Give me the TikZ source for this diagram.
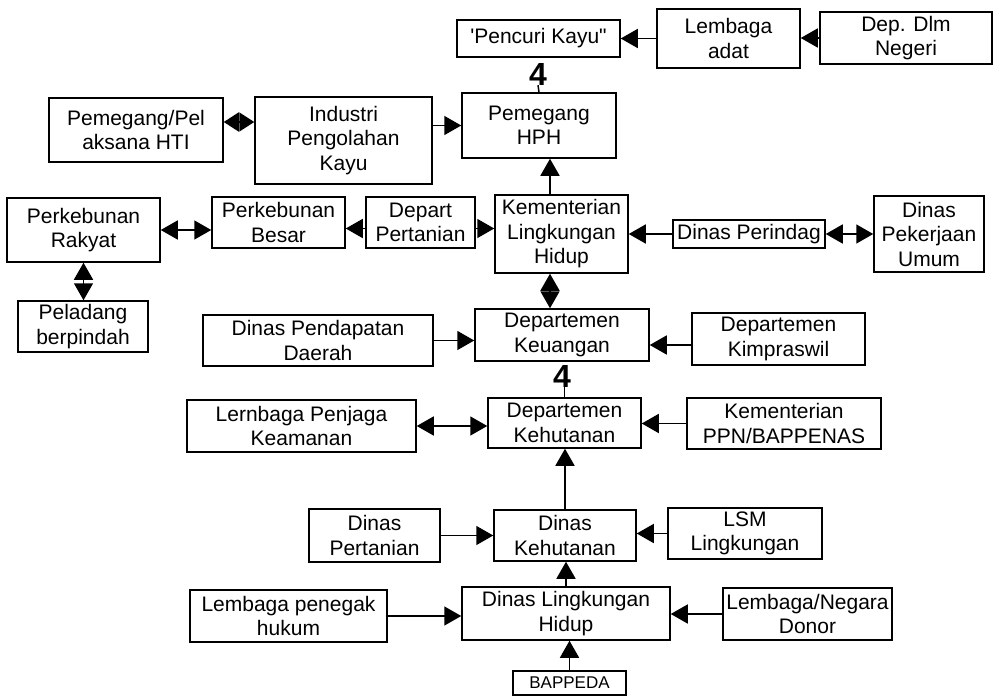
\documentclass[tikz,border=0pt]{standalone}
\usepackage{fontspec}
\setmainfont{Liberation Sans}
\usetikzlibrary{arrows.meta}

\begin{document}
\begin{tikzpicture}[x=1pt,y=-1pt,
    block/.style ={draw, line width=1.5pt, align=center, inner sep=1pt,
      font=\fontsize{21}{24.5}\selectfont},
    link/.style ={line width=1.5pt, -{Triangle[length=17pt,width=19pt]}},
    twoway/.style ={line width=1.5pt,
      {Triangle[length=17pt,width=19pt]}-{Triangle[length=17pt,width=19pt]}},
    shorttwoway/.style ={line width=1.5pt,
      {Triangle[length=15pt,width=19pt]}-{Triangle[length=15pt,width=19pt]}},
    numlabel/.style ={inner sep=0pt, font=\bfseries\fontsize{32}{32}\selectfont}]
   \useasboundingbox (0,0) rectangle (993,696);
   % top row
   \node[block, minimum width=163, minimum height=37] (pencuri) at (538.5,38.5) {\textquotesingle Pencuri Kayu\textquotedbl};
   \node[block, minimum width=143, minimum height=59] (adat) at (728.5,38.5) {Lembaga\\adat};
   \node[block, minimum width=172, minimum height=52] (dlm) at (906,38) {Dep. Dlm\\Negeri};
   \node[numlabel] (four1) at (538,74) {4};
   \node[block, minimum width=154, minimum height=65] (hph) at (539,125.5) {Pemegang\\HPH};
   \node[block, minimum width=177, minimum height=87] (industri) at (343.5,140.5) {Industri\\Pengolahan\\Kayu};
   \node[block, minimum width=174, minimum height=64] (hti) at (136,130) {Pemegang/Pel\\aksana HTI};
   % kementerian row
   \node[block, minimum width=153, minimum height=64] (rakyat) at (83.5,230) {Perkebunan\\Rakyat};
   \node[block, minimum width=133, minimum height=51] (besar) at (278.5,222.5) {Perkebunan\\Besar};
   \node[block, minimum width=109, minimum height=51] (deppert) at (420.5,222.5) {Depart\\Pertanian};
   \node[block, minimum width=133, minimum height=78] (klh) at (561.5,234) {Kementerian\\Lingkungan\\Hidup};
   \node[block, minimum width=152, minimum height=28] (perindag) at (749,234) {Dinas Perindag};
   \node[block, minimum width=110, minimum height=76] (pu) at (929,234) {Dinas\\Pekerjaan\\Umum};
   \node[block, minimum width=130, minimum height=51] (peladang) at (83,326.5) {Peladang\\berpindah};
   % keuangan row
   \node[block, minimum width=230, minimum height=51] (pendapatan) at (318,340.5) {Dinas Pendapatan\\Daerah};
   \node[block, minimum width=174, minimum height=52] (keuangan) at (562,335) {Departemen\\Keuangan};
   \node[block, minimum width=173, minimum height=52] (kimpraswil) at (778.5,339) {Departemen\\Kimpraswil};
   \node[numlabel] (four2) at (562,376) {4};
   % kehutanan rows
   \node[block, minimum width=229, minimum height=52] (keamanan) at (301.5,426) {Lernbaga Penjaga\\Keamanan};
   \node[block, minimum width=153, minimum height=50] (depkeh) at (564.5,423) {Departemen\\Kehutanan};
   \node[block, minimum width=194, minimum height=51] (ppn) at (784,423.5) {Kementerian\\PPN/BAPPENAS};
   \node[block, minimum width=131, minimum height=53] (dinpert) at (374.5,535.5) {Dinas\\Pertanian};
   \node[block, minimum width=142, minimum height=51] (dinkeh) at (565,535.5) {Dinas\\Kehutanan};
   \node[block, minimum width=154, minimum height=51] (lsm) at (745,533.5) {LSM\\Lingkungan};
   \node[block, minimum width=197, minimum height=52] (penegak) at (288.5,616) {Lembaga penegak\\hukum};
   \node[block, minimum width=208, minimum height=53] (dinlh) at (566,613.5) {Dinas Lingkungan\\Hidup};
   \node[block, minimum width=169, minimum height=52] (donor) at (807.5,614) {Lembaga/Negara\\Donor};
   \node[block, minimum width=113, minimum height=24, font=\fontsize{17}{19}\selectfont] (bappeda) at (569.5,683) {BAPPEDA};
   % connectors
   \draw[link] (adat.west) -- (adat.west -| pencuri.east);
   \draw[link] (dlm.west) -- (dlm.west -| adat.east);
   \draw[line width=1.5pt] (hph.north) -- (four1.south);
   \draw[shorttwoway] ([yshift=8pt]hti.east) -- ([yshift=8pt]hti.east -| industri.west);
   \draw[link] (hph.west -| industri.east) -- (hph.west);
   \draw[link] ([xshift=-11.5pt]klh.north) -- ([xshift=-11.5pt]klh.north |- hph.south);
   \draw[twoway] (rakyat.east) -- (rakyat.east -| besar.west);
   \draw[twoway] (rakyat.south) -- (rakyat.south |- peladang.north);
   \draw[link] ([yshift=-6pt]deppert.west) -- ([yshift=-6pt]deppert.west -| besar.east);
   \draw[link] ([yshift=-6pt]deppert.east) -- ([yshift=-6pt]deppert.east -| klh.west);
   \draw[link] (perindag.west) -- (perindag.west -| klh.east);
   \draw[twoway] (perindag.east) -- (perindag.east -| pu.west);
   \draw[twoway] ([xshift=-11.5pt]klh.south) -- ([xshift=-11.5pt]klh.south |- keuangan.north);
   \draw[link] (pendapatan.east) -- (pendapatan.east -| keuangan.west);
   \draw[link] ([yshift=-6pt]kimpraswil.west) -- ([yshift=-6pt]kimpraswil.west -| keuangan.east);
   \draw[line width=1.5pt] (depkeh.north) -- (depkeh.north |- four2.south);
   \draw[twoway] (keamanan.east) -- (keamanan.east -| depkeh.west);
   \draw[link] (ppn.west) -- (ppn.west -| depkeh.east);
   \draw[link] (dinkeh.north) -- (dinkeh.north |- depkeh.south);
   \draw[link] (dinpert.east) -- (dinpert.east -| dinkeh.west);
   \draw[link] (lsm.west) -- (lsm.west -| dinkeh.east);
   \draw[link] (dinlh.north) -- (dinlh.north |- dinkeh.south);
   \draw[link] (penegak.east) -- (penegak.east -| dinlh.west);
   \draw[link] (donor.west) -- (donor.west -| dinlh.east);
   \draw[link] (bappeda.north) -- (bappeda.north |- dinlh.south);
 \end{tikzpicture}
\end{document}
